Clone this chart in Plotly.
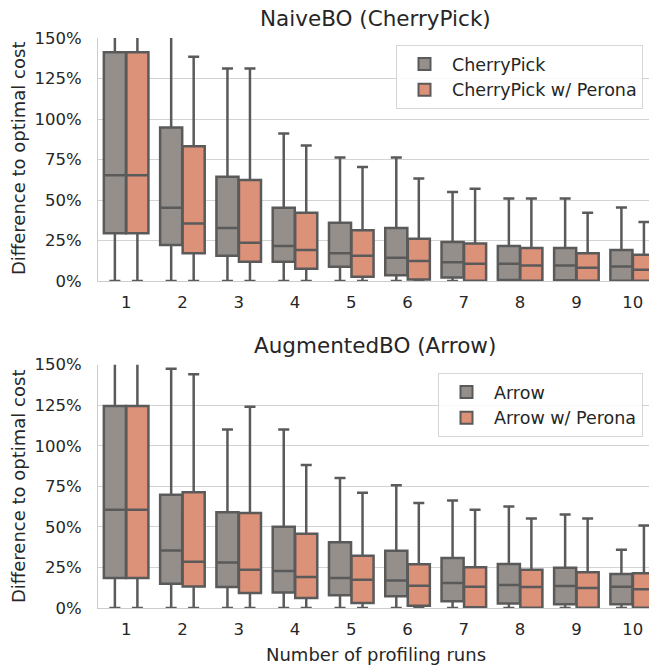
import plotly.graph_objects as go

runs = ["1", "2", "3", "4", "5", "6", "7", "8", "9", "10"]

# Top panel: NaiveBO (CherryPick)
cp_low = [0, 0, 0, 0, 0, 0, 0, 0, 0, 0]
cp_q1 = [29.4, 22.2, 15.6, 11.9, 8.8, 3.5, 2.1, 0.6, 0.5, 0.2]
cp_med = [65.3, 45.2, 32.7, 21.6, 17.1, 14.4, 11.5, 10.7, 9.5, 9.0]
cp_q3 = [141.2, 94.7, 64.3, 45.2, 36.0, 32.7, 24.0, 21.6, 20.3, 19.1]
cp_high = [200, 200, 131.1, 91.0, 76.2, 76.2, 54.9, 51.0, 51.0, 45.4]

cpp_low = [0, 0, 0, 0, 0, 0, 0, 0, 0, 0]
cpp_q1 = [29.4, 17.1, 11.9, 7.6, 2.7, 1.0, 0.1, 0.1, 0.1, 0.1]
cpp_med = [65.3, 35.5, 23.6, 19.1, 15.6, 12.3, 10.7, 9.5, 8.2, 7.0]
cpp_q3 = [141.2, 83.2, 62.3, 42.1, 31.4, 26.1, 23.2, 20.3, 17.1, 16.2]
cpp_high = [200, 138.5, 131.1, 83.6, 70.3, 63.3, 56.9, 51.0, 42.1, 36.4]

# Bottom panel: AugmentedBO (Arrow)
ar_low = [0, 0, 0, 0, 0, 0, 0, 0, 0, 0]
ar_q1 = [18.5, 15.0, 12.9, 9.6, 7.8, 7.2, 4.1, 2.7, 2.3, 2.3]
ar_med = [60.5, 35.5, 28.1, 22.8, 18.5, 17.0, 15.4, 14.2, 13.5, 13.1]
ar_q3 = [124.6, 69.8, 59.1, 50.1, 40.6, 35.3, 30.8, 27.1, 24.8, 20.9]
ar_high = [200, 147.5, 110.0, 110.0, 80.2, 75.7, 66.3, 62.6, 57.7, 35.9]

arp_low = [0, 0, 0, 0, 0, 0, 0, 0, 0, 0]
arp_q1 = [18.5, 13.3, 9.2, 6.2, 3.1, 1.4, 0.4, 0.1, 0.1, 0.1]
arp_med = [60.5, 28.5, 23.6, 19.1, 17.4, 13.7, 13.1, 12.9, 12.3, 11.5]
arp_q3 = [124.6, 71.4, 58.5, 45.8, 32.2, 26.9, 25.2, 23.6, 22.0, 21.5]
arp_high = [200, 144.1, 124.0, 88.2, 71.0, 64.8, 60.5, 55.2, 55.2, 50.9]

ytickvals = [0, 25, 50, 75, 100, 125, 150]
yticktext = ["0%", "25%", "50%", "75%", "100%", "125%", "150%"]

GRAY = "#958f8b"
SALMON = "#dc9179"
EDGE = "#5a5a5a"
FONT = "DejaVu Sans"
TXT = "#262626"
TICK = 16.5
LEG = 17.5
LABEL = 18
TITLE = 21.5

fig = go.Figure()


def add_box(name, q1, med, q3, lo, hi, color, xa, ya, legend, grp):
    fig.add_trace(go.Box(
        name=name, x=runs, q1=q1, median=med, q3=q3,
        lowerfence=lo, upperfence=hi,
        fillcolor=color, line=dict(color=EDGE, width=2.5),
        whiskerwidth=0.5, boxpoints=False, hoverinfo="skip",
        xaxis=xa, yaxis=ya, legend=legend, offsetgroup=grp,
    ))


add_box("CherryPick", cp_q1, cp_med, cp_q3, cp_low, cp_high, GRAY, "x", "y", "legend", "base")
add_box("CherryPick w/ Perona", cpp_q1, cpp_med, cpp_q3, cpp_low, cpp_high, SALMON, "x", "y", "legend", "perona")
add_box("Arrow", ar_q1, ar_med, ar_q3, ar_low, ar_high, GRAY, "x2", "y2", "legend2", "base")
add_box("Arrow w/ Perona", arp_q1, arp_med, arp_q3, arp_low, arp_high, SALMON, "x2", "y2", "legend2", "perona")

W, H = 649, 667
ml, mr, mt, mb = 98, 0, 38, 59
ph = H - mt - mb
pw = W - ml - mr


def py(pix):
    return 1 - (pix - mt) / ph


def px(pix):
    return (pix - ml) / pw


xcommon = dict(type="category", range=[-0.5, 9.29], showgrid=False, showline=True,
               linecolor="#cccccc", linewidth=1, ticks="", mirror=False,
               tickfont=dict(family=FONT, size=TICK, color=TXT), ticklabelstandoff=6)
ycommon = dict(range=[0, 150], tickvals=ytickvals, ticktext=yticktext, showgrid=True,
               gridcolor="#d3d3d3", gridwidth=1, showline=True, linecolor="#cccccc",
               linewidth=1, zeroline=False, ticks="",
               tickfont=dict(family=FONT, size=TICK, color=TXT), ticklabelstandoff=12)

legend_common = dict(font=dict(family=FONT, size=LEG, color=TXT), bgcolor="rgba(255,255,255,0.85)",
                     bordercolor="#d6d6d6", borderwidth=1, xanchor="right", yanchor="top",
                     itemsizing="constant", itemwidth=45, tracegroupgap=0)

fig.update_layout(
    width=W, height=H,
    margin=dict(l=ml, r=mr, t=mt, b=mb, pad=0),
    paper_bgcolor="white", plot_bgcolor="white",
    boxmode="group", boxgap=0.2, boxgroupgap=0.02,
    xaxis=dict(domain=[0, 1], anchor="y", **xcommon),
    yaxis=dict(domain=[py(281), 1], anchor="x", **ycommon),
    xaxis2=dict(domain=[0, 1], anchor="y2", **xcommon),
    yaxis2=dict(domain=[0, py(364.7)], anchor="x2", **ycommon),
    legend=dict(x=px(643), y=py(45), **legend_common),
    legend2=dict(x=px(643), y=py(373), **legend_common),
    showlegend=True,
    annotations=[
        dict(text="NaiveBO (CherryPick)", xref="paper", yref="paper", x=px(375), y=py(19),
             showarrow=False, xanchor="center", yanchor="middle",
             font=dict(family=FONT, size=TITLE, color=TXT)),
        dict(text="AugmentedBO (Arrow)", xref="paper", yref="paper", x=px(375), y=py(345),
             showarrow=False, xanchor="center", yanchor="middle",
             font=dict(family=FONT, size=TITLE, color=TXT)),
        dict(text="Number of profiling runs", xref="paper", yref="paper", x=px(376), y=py(654),
             showarrow=False, xanchor="center", yanchor="middle",
             font=dict(family=FONT, size=LABEL, color=TXT)),
        dict(text="Difference to optimal cost", xref="paper", yref="paper", x=px(18), y=py(159),
             showarrow=False, xanchor="center", yanchor="middle", textangle=-90,
             font=dict(family=FONT, size=LABEL, color=TXT)),
        dict(text="Difference to optimal cost", xref="paper", yref="paper", x=px(18), y=py(487),
             showarrow=False, xanchor="center", yanchor="middle", textangle=-90,
             font=dict(family=FONT, size=LABEL, color=TXT)),
    ],
)

fig.write_html("out.html", config={"displayModeBar": False},
               post_script="document.body.style.margin='0';")
